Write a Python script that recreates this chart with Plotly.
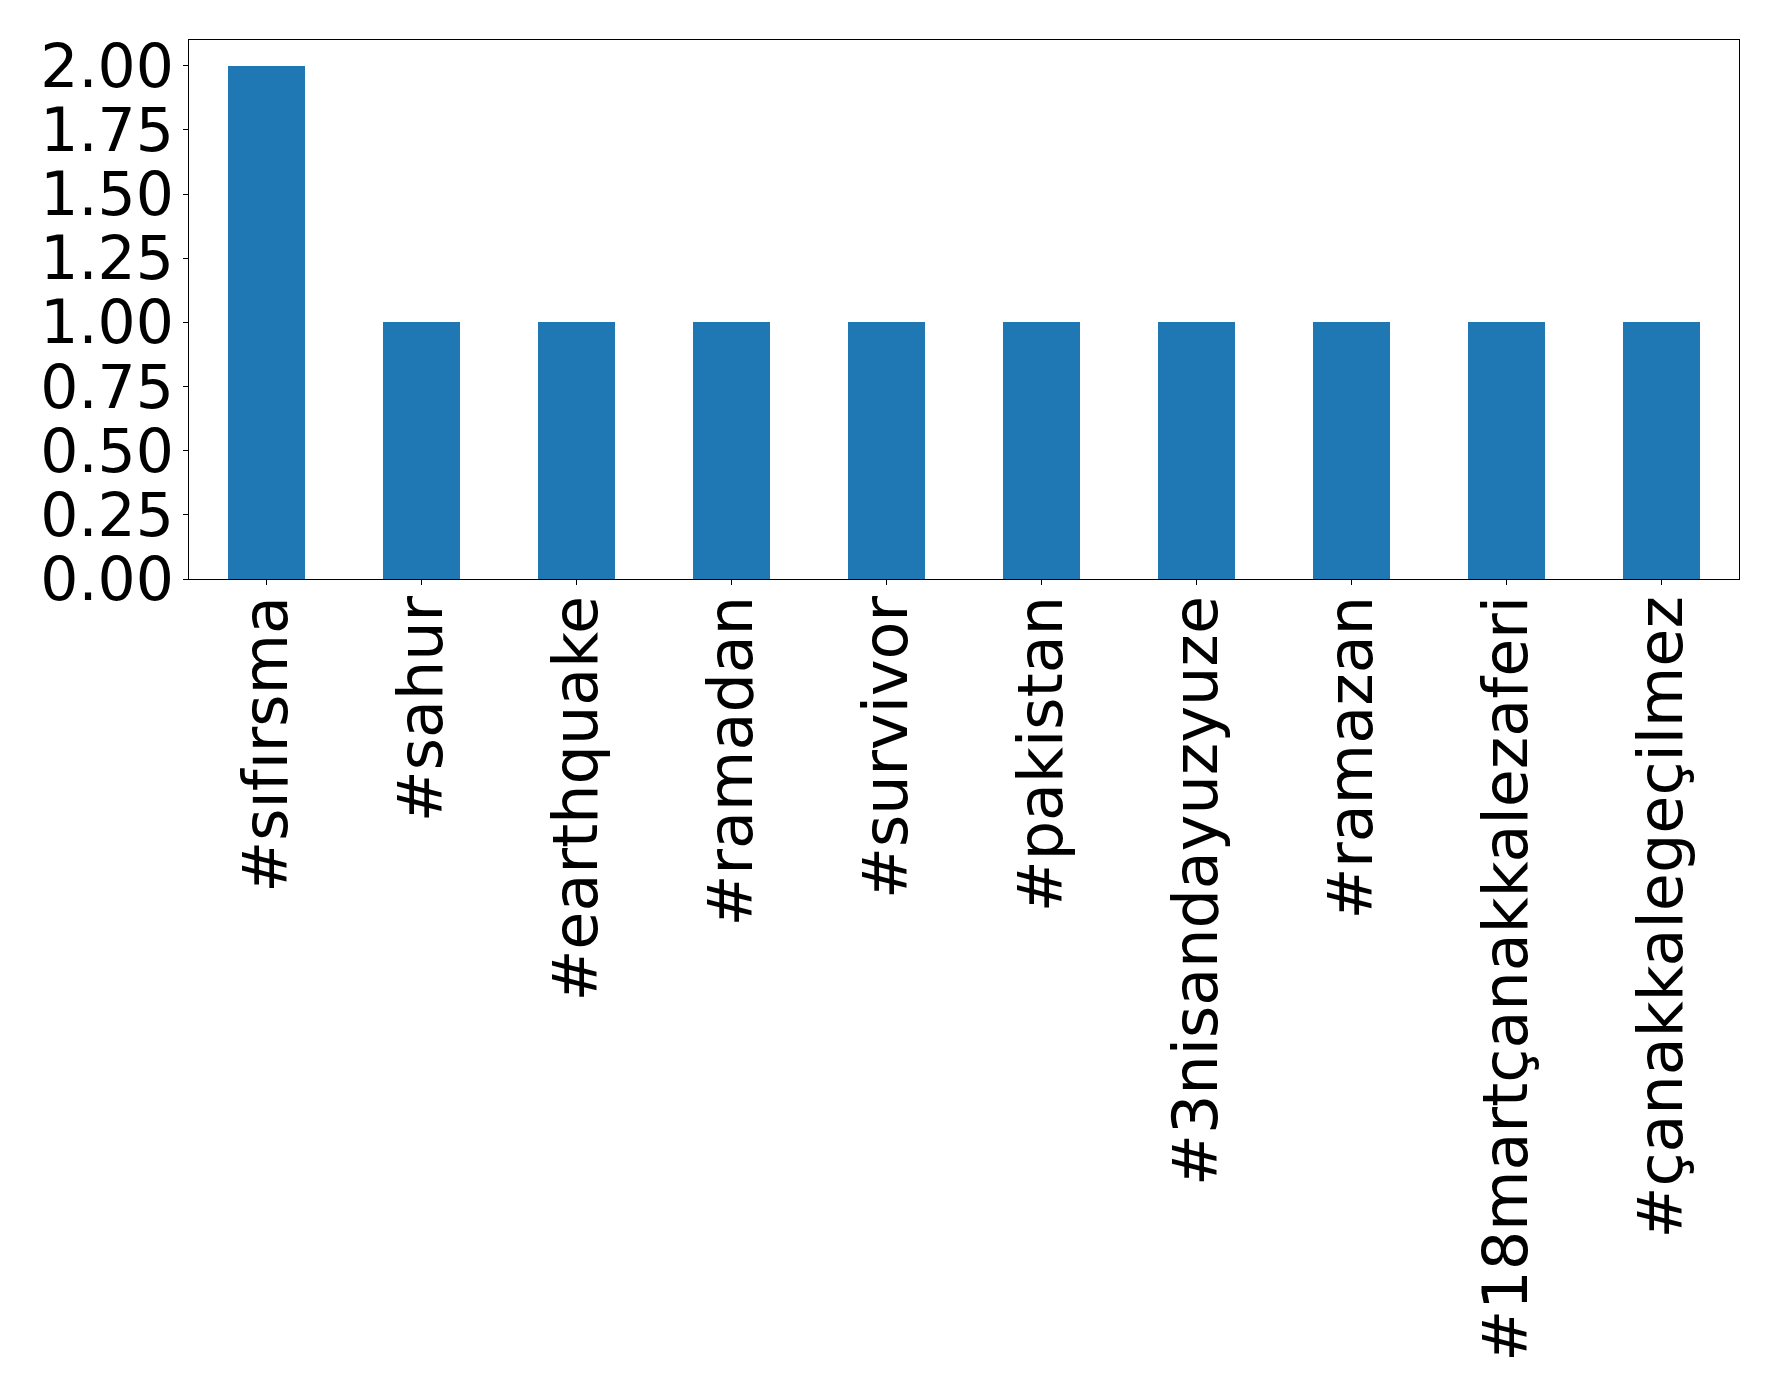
import plotly.graph_objects as go

categories = ["#sıfırsma", "#sahur", "#earthquake", "#ramadan", "#survivor",
              "#pakistan", "#3nisandayuzyuze", "#ramazan",
              "#18martçanakkalezaferi", "#çanakkalegeçilmez"]
values = [2, 1, 1, 1, 1, 1, 1, 1, 1, 1]
y_ticks = [0, 0.25, 0.5, 0.75, 1.0, 1.25, 1.5, 1.75, 2.0]
y_tick_labels = ["0.00", "0.25", "0.50", "0.75", "1.00", "1.25", "1.50", "1.75", "2.00"]

x_pos = list(range(len(categories)))

fig = go.Figure(go.Bar(x=x_pos, y=values, width=0.5, marker=dict(color="#1f77b4", line=dict(width=0))))

xfont = dict(family="DejaVu Sans", size=62, color="black")
yfont = dict(family="DejaVu Sans", size=60, color="black")
fig.update_layout(
    width=1778, height=1400,
    margin=dict(l=181, r=47, t=32, b=829),
    paper_bgcolor="white", plot_bgcolor="white",
    showlegend=False,
    font=xfont,
    bargap=0,
)
fig.update_xaxes(
    range=[-0.5, 9.5], tickmode="array", tickvals=x_pos, ticktext=categories,
    tickangle=-90, ticks="outside", ticklen=5, tickwidth=1, tickcolor="black",
    showline=True, linecolor="black", linewidth=1.3, mirror=True,
    showgrid=False, zeroline=False, tickfont=xfont, ticklabelstandoff=-14,
)
fig.update_yaxes(
    range=[0, 2.1], tickmode="array", tickvals=y_ticks, ticktext=y_tick_labels,
    ticks="outside", ticklen=5, tickwidth=1, tickcolor="black",
    showline=True, linecolor="black", linewidth=1.3, mirror=True,
    showgrid=False, zeroline=False, tickfont=yfont, ticklabelstandoff=-3,
)
fig.write_html("out.html")
